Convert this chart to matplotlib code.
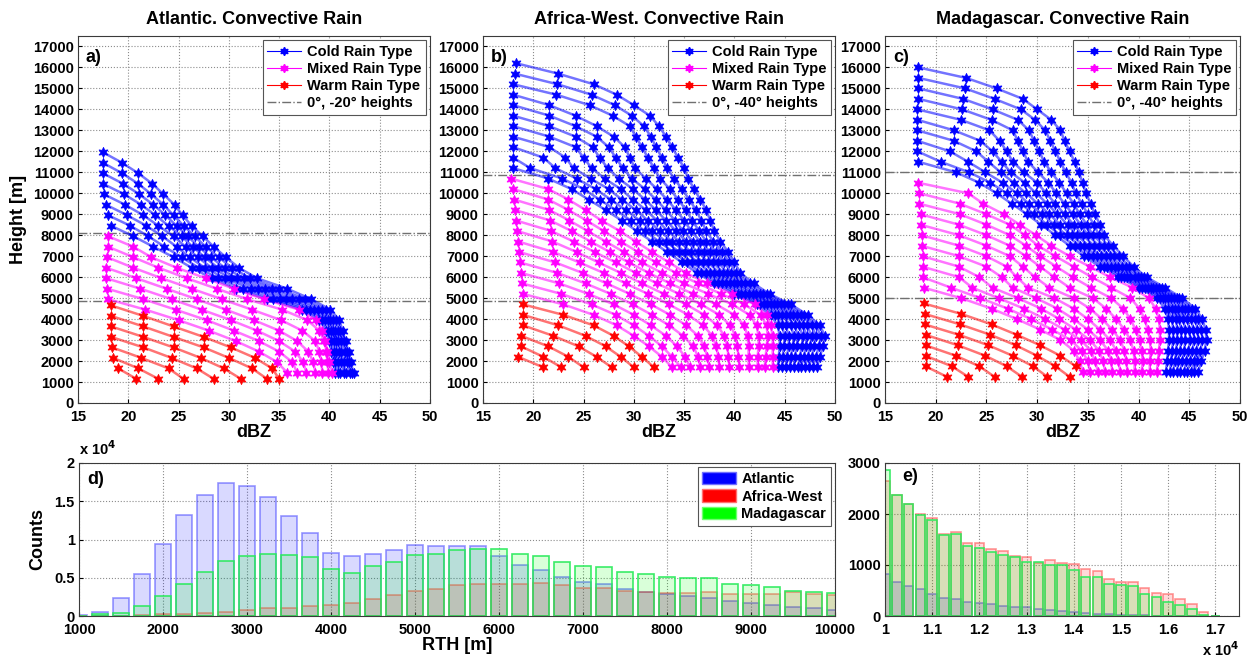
import numpy as np
import matplotlib
matplotlib.use("Agg")
import matplotlib.pyplot as plt
from matplotlib.lines import Line2D
from matplotlib.patches import Patch

plt.rcParams['font.family'] = ['Liberation Sans', 'DejaVu Sans']
plt.rcParams['font.weight'] = 'bold'
plt.rcParams['axes.labelweight'] = 'bold'
plt.rcParams['axes.titleweight'] = 'bold'

STEP = 500  # vertical spacing between successive points of a profile [m]

# ---------------- Atlantic: mean dBZ profiles, one per rain top height ----------------
atl_levels = [4850, 8100]
atl_warm_tops = [1650, 2150, 2650, 3150, 3650, 4150, 4650]
atl_warm_dbz = [
    [19.0, 20.8],
    [18.5, 21.0, 23.0],
    [18.4, 21.3, 24.0, 25.5],
    [18.3, 21.5, 24.3, 26.8, 28.5],
    [18.3, 21.5, 24.5, 27.2, 29.5, 31.2],
    [18.3, 21.5, 24.5, 27.5, 30.0, 32.3, 33.8],
    [18.3, 21.5, 24.5, 27.5, 30.2, 32.6, 34.3, 35.0],
]
atl_mixed_tops = [4950, 5450, 5950, 6450, 6950, 7450, 7950]
atl_mixed_dbz = [
    [18.0, 21.7, 25.0, 28.0, 30.7, 33.0, 34.8, 35.8],
    [17.9, 21.5, 24.7, 27.8, 30.5, 33.0, 35.0, 36.3, 36.8],
    [17.8, 21.2, 24.3, 27.3, 30.2, 32.8, 35.0, 36.6, 37.4, 37.7],
    [17.8, 20.8, 23.8, 26.8, 29.7, 32.5, 35.0, 36.8, 37.9, 38.4, 38.6],
    [17.9, 20.5, 23.3, 26.3, 29.3, 32.3, 35.2, 37.3, 38.6, 39.0, 39.2, 39.3],
    [18.0, 20.5, 23.0, 25.8, 28.8, 31.8, 35.3, 37.8, 39.0, 39.5, 39.7, 39.8, 39.9],
    [18.0, 20.5, 22.3, 24.8, 27.7, 30.5, 33.5, 37.0, 38.7, 39.3, 39.6, 39.8, 40.0, 40.3],
]
atl_cold_tops = [8450, 8950, 9450, 9950, 10450, 10950, 11450, 11950]
atl_cold_dbz = [
    [18.3, 20.5, 22.5, 24.5, 26.3, 28.3, 30.7, 33.8, 37.3, 39.0, 39.7, 40.0, 40.2, 40.4, 40.6],
    [18.0, 20.2, 22.0, 23.6, 25.3, 27.0, 28.9, 31.4, 34.4, 37.7, 39.3, 39.9, 40.2, 40.5, 40.6, 40.9],
    [17.8, 19.9, 21.8, 23.4, 24.8, 26.1, 27.6, 29.6, 32.2, 35.1, 38.1, 39.6, 40.2, 40.5, 40.7, 40.9, 41.1],
    [17.6, 19.7, 21.5, 23.0, 24.5, 25.7, 26.9, 28.3, 30.2, 32.9, 35.7, 38.5, 39.9, 40.4, 40.7, 41.0, 41.2, 41.4],
    [17.5, 19.6, 21.3, 22.7, 24.0, 25.3, 26.4, 27.6, 28.9, 30.8, 33.6, 36.3, 38.9, 40.1, 40.6, 40.9, 41.2, 41.4, 41.6],
    [17.5, 19.5, 21.1, 22.5, 23.7, 24.8, 25.9, 27.0, 28.2, 29.6, 31.5, 34.3, 37.0, 39.3, 40.4, 40.9, 41.2, 41.5, 41.7, 42.0],
    [17.5, 19.4, 21.0, 22.3, 23.5, 24.5, 25.5, 26.6, 27.7, 29.0, 30.3, 32.1, 35.0, 37.6, 39.7, 40.7, 41.1, 41.4, 41.7, 41.9, 42.2],
    [17.5, 19.4, 21.0, 22.4, 23.5, 24.6, 25.4, 26.3, 27.4, 28.5, 29.7, 31.0, 32.8, 35.8, 38.2, 40.1, 41.0, 41.3, 41.6, 41.9, 42.1, 42.4],
]

# ---------------- Africa-West ----------------
afr_levels = [4850, 10850]
afr_warm_tops = [2200, 2700, 3200, 3700, 4200, 4700]
afr_warm_dbz = [
    [18.5, 21.0],
    [18.8, 21.0, 22.8],
    [18.8, 21.5, 23.5, 25.0],
    [19.0, 22.0, 24.5, 26.3, 27.8],
    [19.0, 22.5, 25.2, 27.2, 28.7, 30.0],
    [19.0, 23.0, 26.0, 28.0, 29.5, 30.8, 32.0],
]
afr_mixed_tops = [5200, 5700, 6200, 6700, 7200, 7700, 8200, 8700, 9200, 9700, 10200, 10700]
afr_mixed_dbz = [
    [19.0, 23.0, 26.0, 28.3, 30.0, 31.5, 32.8, 33.8],
    [18.9, 22.8, 25.8, 28.2, 30.0, 31.5, 32.8, 33.8, 34.7],
    [18.8, 22.6, 25.5, 28.0, 30.0, 31.7, 33.2, 34.3, 35.1, 35.6],
    [18.7, 22.4, 25.2, 27.7, 29.9, 31.8, 33.5, 34.9, 35.9, 36.4, 36.6],
    [18.6, 22.2, 24.9, 27.3, 29.6, 31.7, 33.6, 35.2, 36.4, 37.0, 37.3, 37.5],
    [18.5, 22.0, 24.6, 27.0, 29.2, 31.4, 33.5, 35.4, 36.9, 37.8, 38.2, 38.4, 38.5],
    [18.4, 21.9, 24.3, 26.5, 28.7, 30.8, 33.0, 35.2, 37.0, 38.3, 39.0, 39.3, 39.4, 39.5],
    [18.3, 21.8, 24.0, 26.1, 28.2, 30.2, 32.3, 34.5, 36.7, 38.5, 39.6, 40.1, 40.3, 40.4, 40.5],
    [18.2, 21.7, 23.8, 25.7, 27.6, 29.5, 31.5, 33.6, 35.9, 38.2, 40.0, 41.0, 41.3, 41.4, 41.4, 41.4],
    [18.1, 21.6, 23.6, 25.4, 27.2, 29.0, 30.8, 32.8, 35.0, 37.4, 39.8, 41.5, 42.2, 42.4, 42.4, 42.3, 42.3],
    [18.0, 21.5, 23.5, 25.3, 27.0, 28.7, 30.4, 32.2, 34.2, 36.4, 38.7, 41.0, 42.6, 43.2, 43.3, 43.2, 43.1, 43.0],
    [17.8, 21.5, 23.5, 25.2, 26.8, 28.6, 30.2, 31.8, 33.5, 35.2, 37.3, 39.8, 42.0, 43.2, 43.6, 43.8, 43.8, 43.8, 43.8],
]
afr_cold_tops = [11200, 11700, 12200, 12700, 13200, 13700, 14200, 14700, 15200, 15700, 16200]
afr_cold_dbz = [
    [18.0, 21.5, 23.8, 25.5, 27.2, 28.8, 30.3, 31.8, 33.3, 34.8, 36.3, 38.0, 40.0, 42.2, 43.6, 44.3, 44.5, 44.5, 44.4, 44.3],
    [18.0, 19.7, 22.9, 25.0, 26.6, 28.2, 29.7, 31.1, 32.5, 33.9, 35.3, 36.7, 38.4, 40.4, 42.5, 44.0, 44.7, 45.0, 44.9, 44.8, 44.7],
    [18.0, 21.0, 22.2, 24.3, 26.2, 27.7, 29.2, 30.6, 31.8, 33.2, 34.5, 35.8, 37.2, 38.8, 40.7, 42.9, 44.3, 45.1, 45.4, 45.4, 45.2, 45.1],
    [18.0, 21.6, 23.2, 24.0, 25.7, 27.5, 28.8, 30.2, 31.4, 32.6, 33.8, 35.1, 36.4, 37.6, 39.2, 41.1, 43.2, 44.7, 45.6, 45.9, 45.8, 45.6, 45.5],
    [18.0, 21.6, 24.2, 25.0, 25.8, 27.1, 28.7, 29.9, 31.2, 32.3, 33.4, 34.5, 35.7, 36.9, 38.0, 39.6, 41.4, 43.6, 45.1, 46.0, 46.3, 46.2, 46.0, 45.9],
    [18.0, 21.6, 24.2, 25.9, 26.6, 27.4, 28.5, 29.9, 31.1, 32.2, 33.2, 34.2, 35.2, 36.4, 37.4, 38.5, 40.0, 41.8, 43.9, 45.5, 46.4, 46.8, 46.7, 46.5, 46.3],
    [18.0, 21.6, 24.2, 26.3, 27.5, 28.2, 28.9, 29.8, 31.1, 32.2, 33.2, 34.1, 34.9, 35.9, 37.0, 37.9, 38.9, 40.3, 42.1, 44.2, 45.8, 46.8, 47.2, 47.1, 46.9, 46.6],
    [18.0, 21.6, 24.2, 26.3, 28.0, 29.1, 29.6, 30.1, 31.2, 32.3, 33.3, 34.2, 35.0, 35.7, 36.6, 37.6, 38.4, 39.3, 40.7, 42.5, 44.6, 46.2, 47.2, 47.7, 47.5, 47.3, 47.0],
    [18.0, 22.3, 25.6, 27.9, 29.6, 30.2, 30.8, 31.4, 32.0, 32.6, 33.6, 34.4, 35.2, 35.8, 36.5, 37.2, 38.2, 39.0, 39.7, 41.1, 42.8, 44.9, 46.6, 47.7, 48.1, 47.9, 47.7, 47.4],
    [18.2, 22.4, 25.8, 28.1, 29.8, 31.0, 31.7, 32.2, 32.8, 33.3, 34.0, 34.8, 35.5, 36.2, 36.7, 37.2, 37.9, 38.8, 39.5, 40.2, 41.5, 43.2, 45.3, 46.9, 48.1, 48.6, 48.4, 48.1, 47.8],
    [18.3, 22.5, 26.0, 28.3, 30.0, 31.6, 32.5, 33.2, 33.8, 34.4, 35.0, 35.4, 36.0, 36.6, 37.2, 37.6, 38.0, 38.6, 39.4, 40.0, 40.6, 41.9, 43.5, 45.6, 47.3, 48.5, 49.0, 48.8, 48.5, 48.2],
]

# ---------------- Madagascar ----------------
mad_levels = [5000, 11000]
mad_warm_tops = [1750, 2250, 2750, 3250, 3750, 4250, 4750]
mad_warm_dbz = [
    [19.0, 21.1],
    [19.0, 21.6, 23.2],
    [19.0, 22.0, 24.3, 25.8],
    [19.0, 22.2, 24.9, 27.0, 28.5],
    [18.9, 22.3, 25.2, 27.6, 29.6, 31.0],
    [18.9, 22.4, 25.4, 27.9, 30.0, 31.8, 33.2],
    [18.8, 22.5, 25.5, 28.0, 30.3, 32.3, 33.8],
]
mad_mixed_tops = [5500, 6000, 6500, 7000, 7500, 8000, 8500, 9000, 9500, 10000, 10500]
mad_mixed_dbz = [
    [18.8, 22.5, 25.5, 28.0, 30.3, 32.3, 33.6, 34.2, 34.5],
    [18.7, 21.5, 24.4, 27.1, 29.4, 31.5, 33.3, 34.4, 35.0, 35.2],
    [18.7, 22.3, 23.6, 26.2, 28.7, 30.8, 32.7, 34.3, 35.3, 35.7, 36.0],
    [18.7, 22.3, 24.3, 25.6, 28.1, 30.4, 32.2, 33.8, 35.2, 36.1, 36.5, 36.7],
    [18.6, 22.3, 25.0, 26.5, 27.6, 29.9, 32.0, 33.6, 35.0, 36.2, 37.0, 37.3, 37.4],
    [18.6, 22.3, 25.0, 27.0, 28.0, 29.1, 31.7, 33.6, 35.0, 36.2, 37.2, 37.8, 38.0, 38.2],
    [18.5, 22.3, 25.0, 27.3, 28.6, 29.8, 31.2, 33.6, 35.2, 36.4, 37.4, 38.2, 38.6, 38.8, 38.9],
    [18.5, 22.3, 25.0, 27.3, 28.9, 30.3, 31.7, 33.2, 35.5, 36.8, 37.8, 38.6, 39.2, 39.5, 39.6, 39.6],
    [18.4, 22.4, 25.0, 27.3, 28.9, 30.3, 31.9, 33.5, 35.3, 37.3, 38.5, 39.2, 39.7, 40.1, 40.3, 40.4, 40.3],
    [18.4, 22.4, 25.0, 27.3, 28.8, 30.1, 31.8, 33.6, 35.4, 37.3, 39.2, 40.1, 40.6, 40.9, 41.1, 41.2, 41.1, 41.1],
    [18.3, 23.2, 24.7, 26.7, 28.3, 29.9, 31.4, 33.2, 35.2, 37.2, 39.4, 41.0, 41.7, 42.0, 42.1, 42.1, 42.0, 41.9, 41.8],
]
mad_cold_tops = [11500, 12000, 12500, 13000, 13500, 14000, 14500, 15000, 15500, 16000]
mad_cold_dbz = [
    [18.3, 22.0, 24.3, 26.0, 27.5, 29.0, 30.4, 31.8, 33.2, 34.6, 36.2, 38.0, 40.0, 41.8, 42.6, 42.9, 43.0, 43.0, 42.9, 42.8, 42.7],
    [18.2, 20.5, 23.3, 25.4, 27.0, 28.4, 29.7, 31.0, 32.3, 33.7, 35.0, 36.6, 38.3, 40.3, 42.1, 42.9, 43.3, 43.4, 43.4, 43.3, 43.2, 43.1],
    [18.2, 21.4, 23.2, 24.9, 26.6, 28.0, 29.2, 30.5, 31.7, 32.9, 34.2, 35.5, 36.9, 38.6, 40.6, 42.4, 43.3, 43.7, 43.8, 43.8, 43.7, 43.6, 43.4],
    [18.2, 21.8, 24.0, 25.2, 26.4, 27.7, 28.9, 30.1, 31.2, 32.3, 33.4, 34.6, 35.9, 37.3, 38.9, 40.9, 42.6, 43.6, 44.0, 44.2, 44.2, 44.1, 43.9, 43.8],
    [18.2, 21.8, 24.4, 25.6, 26.5, 27.4, 28.8, 29.9, 31.0, 32.0, 33.0, 33.9, 35.1, 36.3, 37.7, 39.2, 41.2, 42.9, 43.9, 44.4, 44.6, 44.6, 44.5, 44.3, 44.1],
    [18.2, 22.5, 25.3, 26.3, 27.0, 27.6, 28.7, 30.0, 30.9, 31.8, 32.7, 33.6, 34.5, 35.6, 36.8, 38.0, 39.6, 41.4, 43.2, 44.3, 44.8, 45.0, 45.1, 44.9, 44.7, 44.5],
    [18.3, 22.6, 25.5, 27.6, 28.1, 28.6, 29.1, 30.1, 31.1, 31.9, 32.7, 33.5, 34.3, 35.0, 36.1, 37.2, 38.4, 39.9, 41.7, 43.5, 44.6, 45.2, 45.4, 45.5, 45.3, 45.1, 44.8],
    [18.3, 22.7, 25.6, 28.1, 29.2, 29.7, 30.2, 30.7, 31.4, 32.2, 32.9, 33.6, 34.2, 34.9, 35.5, 36.6, 37.6, 38.8, 40.2, 42.0, 43.8, 44.9, 45.6, 45.8, 45.9, 45.7, 45.5, 45.2],
    [18.3, 22.9, 25.8, 28.4, 29.8, 30.8, 31.3, 31.8, 32.3, 32.8, 33.4, 33.8, 34.4, 35.0, 35.6, 36.1, 37.0, 38.1, 39.1, 40.5, 42.3, 44.0, 45.3, 45.9, 46.2, 46.3, 46.1, 45.8, 45.5],
    [18.3, 23.0, 26.0, 28.6, 30.0, 31.4, 32.3, 32.7, 33.2, 33.7, 34.1, 34.5, 34.8, 35.3, 35.7, 36.2, 36.6, 37.5, 38.5, 39.5, 40.8, 42.6, 44.3, 45.6, 46.3, 46.6, 46.7, 46.5, 46.2, 45.9],
]

# ---------------- RTH histograms ----------------
rth_bins_d = np.arange(1000, 10001, 250)
atl_counts_d = [100, 500, 2300, 5500, 9400, 13200, 15800, 17400, 17000, 15600, 13100, 10800, 8300,
                7800, 8100, 8600, 9300, 9200, 9100, 9100, 7800, 6700, 6000, 5100, 4400, 4200, 3500,
                3200, 2900, 2600, 2400, 1900, 1700, 1500, 1200, 1100, 800]
afr_counts_d = [0, 0, 50, 100, 200, 300, 400, 500, 800, 1000, 1100, 1300, 1500,
                1700, 2200, 2700, 3300, 3500, 4000, 4200, 4200, 4200, 4300, 4000, 3600, 3700, 3300,
                3200, 3000, 3000, 3200, 2900, 2900, 2900, 3100, 2900, 2700]
mad_counts_d = [50, 200, 400, 1300, 2600, 4200, 5800, 7200, 7800, 8100, 8000, 7700, 6200,
                5600, 6500, 7100, 8000, 8100, 8600, 8800, 8700, 8100, 7900, 7000, 6500, 6400, 5800,
                5500, 5100, 5000, 5000, 4200, 4000, 3800, 3300, 3100, 3000]

rth_bins_e = np.arange(10000, 17001, 250)
atl_counts_e = [830, 660, 590, 520, 440, 360, 340, 270, 250, 240, 190, 180, 170, 130, 110,
                100, 80, 60, 40, 30, 20, 20, 10, 5, 0, 0, 0, 0, 0]
afr_counts_e = [2650, 2380, 2190, 2000, 1930, 1600, 1650, 1440, 1440, 1320, 1270, 1170, 1160, 1040, 1100,
                1040, 1010, 930, 880, 720, 660, 660, 540, 460, 430, 340, 240, 70, 0]
mad_counts_e = [2870, 2380, 2190, 1980, 1890, 1580, 1600, 1380, 1330, 1260, 1190, 1160, 1050, 1060, 1000,
                1000, 900, 770, 760, 620, 610, 590, 430, 370, 280, 210, 130, 10, 0]

# ---------------- figure ----------------
fig = plt.figure(figsize=(12.57, 6.57), dpi=100)
W, H = 1257.0, 657.0


def add_axes_px(x0, y0, x1, y1):
    return fig.add_axes([x0 / W, 1 - y1 / H, (x1 - x0) / W, (y1 - y0) / H])


def style(ax):
    ax.grid(True, linestyle=':', color='#8c8c8c', linewidth=0.8)
    ax.set_axisbelow(True)
    ax.tick_params(direction='in', length=3, width=0.8, labelsize=10.5)
    ax.tick_params(axis='x', pad=5)
    ax.tick_params(axis='y', pad=3)
    for s in ax.spines.values():
        s.set_color('#3a3a3a')
        s.set_linewidth(0.8)


ax_a = add_axes_px(78, 36, 430, 403)
ax_b = add_axes_px(483, 36, 835, 403)
ax_c = add_axes_px(885, 36, 1240, 403)
ax_d = add_axes_px(79, 463, 835, 616)
ax_e = add_axes_px(885, 463, 1239, 616)

COLD, MIXED, WARM = '#0000ff', '#ff00ff', '#ff0000'
LEVEL_COLOR = '#707070'
MARKER = (6, 1, 0)  # filled six-point star

top_panels = [
    (ax_a, 'Atlantic. Convective Rain', 'a)', atl_levels, '0°, -20° heights',
     [(atl_cold_tops, atl_cold_dbz, COLD), (atl_mixed_tops, atl_mixed_dbz, MIXED),
      (atl_warm_tops, atl_warm_dbz, WARM)]),
    (ax_b, 'Africa-West. Convective Rain', 'b)', afr_levels, '0°, -40° heights',
     [(afr_cold_tops, afr_cold_dbz, COLD), (afr_mixed_tops, afr_mixed_dbz, MIXED),
      (afr_warm_tops, afr_warm_dbz, WARM)]),
    (ax_c, 'Madagascar. Convective Rain', 'c)', mad_levels, '0°, -40° heights',
     [(mad_cold_tops, mad_cold_dbz, COLD), (mad_mixed_tops, mad_mixed_dbz, MIXED),
      (mad_warm_tops, mad_warm_dbz, WARM)]),
]

for ax, title, tag, levels, lev_label, groups in top_panels:
    style(ax)
    for lev in levels:
        ax.axhline(lev, color=LEVEL_COLOR, ls='-.', lw=1.0, zorder=1.5)
    for tops, dbz, col in groups:
        for top, vals in zip(tops, dbz):
            hts = top - STEP * np.arange(len(vals))
            ax.plot(vals, hts, '-', color=col, lw=1.8, alpha=0.55, zorder=2,
                    solid_capstyle='round')
            ax.plot(vals, hts, linestyle='none', marker=MARKER, ms=7.5, color=col,
                    markeredgewidth=0.5, zorder=3)
    ax.set_xlim(15, 50)
    ax.set_ylim(0, 17500)
    ax.set_xticks(np.arange(15, 51, 5))
    ax.set_yticks(np.arange(0, 17001, 1000))
    ax.set_title(title, fontsize=13, pad=9)
    ax.set_xlabel('dBZ', fontsize=13, labelpad=0)
    ax.text(0.022, 0.965, tag, transform=ax.transAxes, ha='left', va='top', fontsize=13)
    handles = [Line2D([], [], color=COLD, lw=0.8, marker=MARKER, ms=6),
               Line2D([], [], color=MIXED, lw=0.8, marker=MARKER, ms=6),
               Line2D([], [], color=WARM, lw=0.8, marker=MARKER, ms=6),
               Line2D([], [], color=LEVEL_COLOR, lw=1.0, ls='-.')]
    labels = ['Cold Rain Type', 'Mixed Rain Type', 'Warm Rain Type', lev_label]
    leg = ax.legend(handles, labels, loc='upper right', fontsize=10.5, frameon=True,
                    fancybox=False, edgecolor='#555555', framealpha=1, borderpad=0.3,
                    labelspacing=0.22, handlelength=2.3, handletextpad=0.4, borderaxespad=0.3)
    leg.get_frame().set_linewidth(0.8)
    leg.set_zorder(5)

ax_a.set_ylabel('Height [m]', fontsize=13, labelpad=4)

# histogram styling
BAR_W = 200
bar_styles = [
    ((0, 0, 1, 0.15), (0.2, 0.2, 1, 0.5)),
    ((1, 0, 0, 0.15), (1, 0.2, 0.2, 0.5)),
    ((0, 1, 0, 0.15), (0.15, 0.92, 0.35, 0.9)),
]

for ax, bins, series in [(ax_d, rth_bins_d, [atl_counts_d, afr_counts_d, mad_counts_d]),
                         (ax_e, rth_bins_e, [atl_counts_e, afr_counts_e, mad_counts_e])]:
    style(ax)
    for vals, (fc, ec) in zip(series, bar_styles):
        ax.bar(bins, vals, width=BAR_W, facecolor=fc, edgecolor=ec, linewidth=1.2, zorder=2)

ax_d.set_xlim(1000, 10000)
ax_d.set_ylim(0, 20000)
ax_d.set_xticks(np.arange(1000, 10001, 1000))
ax_d.set_yticks([0, 5000, 10000, 15000, 20000])
ax_d.set_yticklabels(['0', '0.5', '1', '1.5', '2'])
ax_d.set_xlabel('RTH [m]', fontsize=13, labelpad=0)
ax_d.set_ylabel('Counts', fontsize=13, labelpad=6)
ax_d.text(0.0, 1.03, 'x 10$^4$', transform=ax_d.transAxes, ha='left', va='bottom', fontsize=10.5)
ax_d.text(0.011, 0.95, 'd)', transform=ax_d.transAxes, ha='left', va='top', fontsize=13)
leg_d = ax_d.legend([Patch(facecolor='#0000ff', edgecolor='#7070ff'),
                     Patch(facecolor='#ff0000', edgecolor='#ff7070'),
                     Patch(facecolor='#00ff00', edgecolor='#70ff70')],
                    ['Atlantic', 'Africa-West', 'Madagascar'], loc='upper right', fontsize=10.5,
                    frameon=True, fancybox=False, edgecolor='#555555', framealpha=1,
                    borderpad=0.3, labelspacing=0.25, handlelength=2.3, handleheight=0.9,
                    handletextpad=0.4, borderaxespad=0.3)
leg_d.get_frame().set_linewidth(0.8)

ax_e.set_xlim(10000, 17500)
ax_e.set_ylim(0, 3000)
ax_e.set_xticks(np.arange(10000, 17001, 1000))
ax_e.set_xticklabels(['1', '1.1', '1.2', '1.3', '1.4', '1.5', '1.6', '1.7'])
ax_e.set_yticks([0, 1000, 2000, 3000])
ax_e.text(1.0, -0.22, 'x 10$^4$', transform=ax_e.transAxes, ha='right', va='center', fontsize=10.5)
ax_e.text(0.05, 0.965, 'e)', transform=ax_e.transAxes, ha='left', va='top', fontsize=13)

fig.savefig('out.png', dpi=100)
